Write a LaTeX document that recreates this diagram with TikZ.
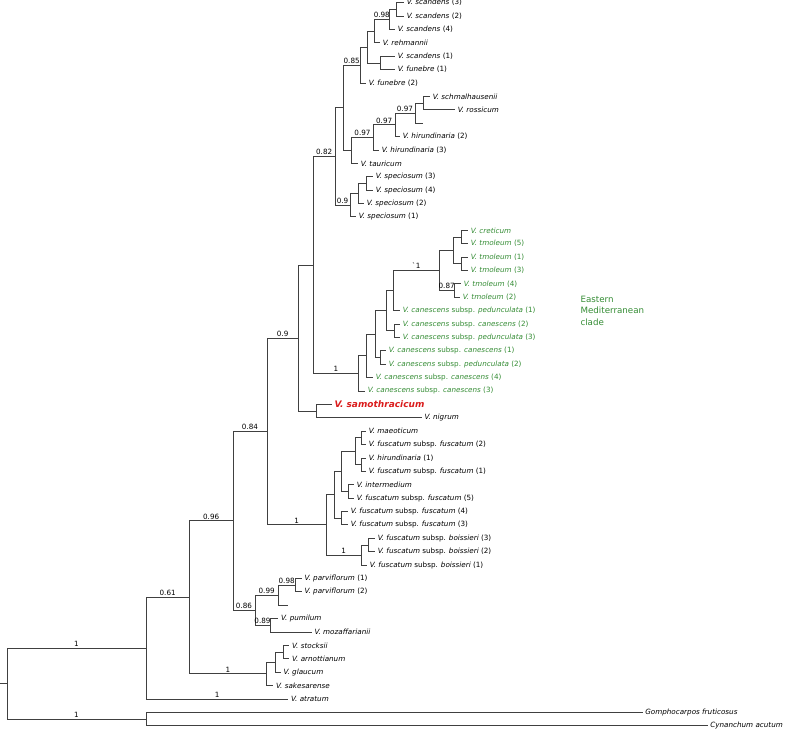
\documentclass[tikz,border=0pt]{standalone}
\usepackage{fontspec}
\setmainfont{DejaVu Sans}
\definecolor{emgreen}{RGB}{52,140,52}
\definecolor{samored}{RGB}{218,28,28}
\newcommand{\ly}[1]{2.7+13.39*(#1)}
\tikzset{br/.style={draw=black!75,line width=.9pt},
  tip/.style={anchor=west,inner xsep=2.6pt,inner ysep=0pt,font=\fontsize{7.2}{8}\selectfont},
  emtip/.style={tip,text=emgreen},
  supp/.style={pos=.75,above,inner sep=1.2pt,font=\fontsize{7.2}{8}\selectfont}}
\begin{document}
\begin{tikzpicture}[x=1pt,y=-1pt]
\useasboundingbox (0,0) rectangle (790,730);
% tips
\foreach \i/\x/\lab in {0/404/{\textit{V. scandens} (3)},1/404/{\textit{V. scandens} (2)},2/395/{\textit{V. scandens} (4)},
  3/380/{\textit{V. rehmannii}},4/395/{\textit{V. scandens} (1)},5/395/{\textit{V. funebre} (1)},6/366/{\textit{V. funebre} (2)},
  7/430/{\textit{V. schmalhausenii}},8/455/{\textit{V. rossicum}},9/423.3/{},10/400/{\textit{V. hirundinaria} (2)},
  11/379/{\textit{V. hirundinaria} (3)},12/358/{\textit{V. tauricum}},13/373/{\textit{V. speciosum} (3)},
  14/373/{\textit{V. speciosum} (4)},15/364/{\textit{V. speciosum} (2)},16/356/{\textit{V. speciosum} (1)},
  31/421.7/{\textit{V. nigrum}},32/366/{\textit{V. maeoticum}},33/366/{\textit{V. fuscatum} subsp. \textit{fuscatum} (2)},
  34/366/{\textit{V. hirundinaria} (1)},35/366/{\textit{V. fuscatum} subsp. \textit{fuscatum} (1)},36/354/{\textit{V. intermedium}},
  37/354/{\textit{V. fuscatum} subsp. \textit{fuscatum} (5)},38/348/{\textit{V. fuscatum} subsp. \textit{fuscatum} (4)},
  39/348/{\textit{V. fuscatum} subsp. \textit{fuscatum} (3)},40/375/{\textit{V. fuscatum} subsp. \textit{boissieri} (3)},
  41/375/{\textit{V. fuscatum} subsp. \textit{boissieri} (2)},42/367/{\textit{V. fuscatum} subsp. \textit{boissieri} (1)},
  43/301.7/{\textit{V. parviflorum} (1)},44/301.7/{\textit{V. parviflorum} (2)},45/288.3/{},46/278.3/{\textit{V. pumilum}},
  47/311.7/{\textit{V. mozaffarianii}},48/289.3/{\textit{V. stocksii}},49/289.3/{\textit{V. arnottianum}},
  50/280.7/{\textit{V. glaucum}},51/273.3/{\textit{V. sakesarense}},52/288.3/{\textit{V. atratum}},
  53/642.5/{\textit{Gomphocarpos fruticosus}},54/707.5/{\textit{Cynanchum acutum}}}
  \node[tip] (t\i) at (\x,{\ly{\i}}) {\lab};
\foreach \i/\x/\lab in {17/468/{\textit{V. creticum}},18/468/{\textit{V. tmoleum} (5)},19/468/{\textit{V. tmoleum} (1)},
  20/468/{\textit{V. tmoleum} (3)},21/461/{\textit{V. tmoleum} (4)},22/460/{\textit{V. tmoleum} (2)},
  23/400/{\textit{V. canescens} subsp. \textit{pedunculata} (1)},24/400/{\textit{V. canescens} subsp. \textit{canescens} (2)},
  25/400/{\textit{V. canescens} subsp. \textit{pedunculata} (3)},26/386/{\textit{V. canescens} subsp. \textit{canescens} (1)},
  27/386/{\textit{V. canescens} subsp. \textit{pedunculata} (2)},28/373/{\textit{V. canescens} subsp. \textit{canescens} (4)},
  29/365/{\textit{V. canescens} subsp. \textit{canescens} (3)}}
  \node[emtip] (t\i) at (\x,{\ly{\i}}) {\lab};
\node[tip,font=\fontsize{9}{10}\selectfont\bfseries\itshape,text=samored] (t30) at (331.7,{\ly{30}}) {V. samothracicum};
\node[anchor=west,align=left,text=emgreen,font=\fontsize{8.7}{11.7}\selectfont] (emlab) at (577,310.7) {Eastern\\Mediterranean\\clade};
% internal nodes
\coordinate (scA) at (396.7,{\ly{0.5}}); \coordinate (scB) at (389.3,{\ly{1.25}}); \coordinate (scC) at (374.3,{\ly{2.125}});
\coordinate (scE) at (380,{\ly{4.5}}); \coordinate (scD) at (367.3,{\ly{3.3125}}); \coordinate (scF) at (360,{\ly{4.65625}});
\coordinate (hiI) at (423.3,{\ly{7.5}}); \coordinate (hiJ) at (415,{\ly{8.25}}); \coordinate (hiK) at (395,{\ly{9.125}});
\coordinate (hiL) at (373.3,{\ly{10.0625}}); \coordinate (hiM) at (351.7,{\ly{11.03125}}); \coordinate (G) at (343.3,{\ly{7.84375}});
\coordinate (spA) at (366.7,{\ly{13.5}}); \coordinate (spB) at (358.3,{\ly{14.25}}); \coordinate (spC) at (350,{\ly{15.125}});
\coordinate (N) at (335,{\ly{11.484375}});
\coordinate (emA) at (461.7,{\ly{17.5}}); \coordinate (emB) at (461.7,{\ly{19.5}}); \coordinate (emC) at (453.3,{\ly{18.5}});
\coordinate (emD) at (454,{\ly{21.5}}); \coordinate (emE) at (439.3,{\ly{20}}); \coordinate (emF) at (393.3,{\ly{21.5}});
\coordinate (emG) at (394,{\ly{24.5}}); \coordinate (emH) at (386,{\ly{23}}); \coordinate (emI) at (380,{\ly{26.5}});
\coordinate (emJ) at (375,{\ly{24.75}}); \coordinate (emK) at (366,{\ly{26.375}}); \coordinate (emL) at (358.3,{\ly{27.6875}});
\coordinate (O) at (313.3,{\ly{19.5859}}); \coordinate (Q) at (316.7,{\ly{30.5}}); \coordinate (P) at (298.3,{\ly{25.043}});
\coordinate (fuA) at (361,{\ly{32.5}}); \coordinate (fuB) at (361,{\ly{34.5}}); \coordinate (fuC) at (355,{\ly{33.5}});
\coordinate (fuD) at (348,{\ly{36.5}}); \coordinate (fuE) at (341,{\ly{35}}); \coordinate (fuF) at (341,{\ly{38.5}});
\coordinate (fuG) at (334,{\ly{36.75}}); \coordinate (fuH) at (368,{\ly{40.5}}); \coordinate (fuI) at (361,{\ly{41.25}});
\coordinate (fuJ) at (326.5,{\ly{39}}); \coordinate (AB) at (267,{\ly{32.0215}});
\coordinate (paA) at (295,{\ly{43.5}}); \coordinate (paB) at (278.3,{\ly{44.25}}); \coordinate (paC) at (270,{\ly{46.5}});
\coordinate (paD) at (255,{\ly{45.375}}); \coordinate (AC) at (233,{\ly{38.6982}});
\coordinate (stA) at (283.3,{\ly{48.5}}); \coordinate (stB) at (275,{\ly{49.25}}); \coordinate (stC) at (266.7,{\ly{50.125}});
\coordinate (AD) at (189.3,{\ly{44.4116}}); \coordinate (ing) at (146,{\ly{48.2058}}); \coordinate (outg) at (146,{\ly{53.5}});
\coordinate (root) at (7,{\ly{50.8529}}); \coordinate (stub) at (0,{\ly{50.8529}});
% branches
\draw[br] (scA) |- (t0.west) (scA) |- (t1.west);
\draw[br] (scB) |- (scA) (scB) |- (t2.west);
\draw[br] (scC) |- node[supp]{0.98} (scB) (scC) |- (t3.west);
\draw[br] (scE) |- (t4.west) (scE) |- (t5.west);
\draw[br] (scD) |- (scC) (scD) |- (scE);
\draw[br] (scF) |- (scD) (scF) |- (t6.west);
\draw[br] (hiI) |- (t7.west) (hiI) |- (t8.west);
\draw[br] (hiJ) |- (hiI) (hiJ) |- (t9.west);
\draw[br] (hiK) |- node[supp]{0.97} (hiJ) (hiK) |- (t10.west);
\draw[br] (hiL) |- node[supp]{0.97} (hiK) (hiL) |- (t11.west);
\draw[br] (hiM) |- node[supp]{0.97} (hiL) (hiM) |- (t12.west);
\draw[br] (G) |- node[supp]{0.85} (scF) (G) |- (hiM);
\draw[br] (spA) |- (t13.west) (spA) |- (t14.west);
\draw[br] (spB) |- (spA) (spB) |- (t15.west);
\draw[br] (spC) |- (spB) (spC) |- (t16.west);
\draw[br] (N) |- (G) (N) |- node[supp]{0.9} (spC);
\draw[br] (emA) |- (t17.west) (emA) |- (t18.west);
\draw[br] (emB) |- (t19.west) (emB) |- (t20.west);
\draw[br] (emC) |- (emA) (emC) |- (emB);
\draw[br] (emD) |- (t21.west) (emD) |- (t22.west);
\draw[br] (emE) |- (emC) (emE) |- node[supp]{0.87} (emD);
\draw[br] (emF) |- node[supp]{\textasciigrave1} (emE) (emF) |- (t23.west);
\draw[br] (emG) |- (t24.west) (emG) |- (t25.west);
\draw[br] (emH) |- (emF) (emH) |- (emG);
\draw[br] (emI) |- (t26.west) (emI) |- (t27.west);
\draw[br] (emJ) |- (emH) (emJ) |- (emI);
\draw[br] (emK) |- (emJ) (emK) |- (t28.west);
\draw[br] (emL) |- (emK) (emL) |- (t29.west);
\draw[br] (O) |- node[supp]{0.82} (N) (O) |- node[supp]{1} (emL);
\draw[br] (Q) |- (t30.west) (Q) |- (t31.west);
\draw[br] (P) |- (O) (P) |- (Q);
\draw[br] (fuA) |- (t32.west) (fuA) |- (t33.west);
\draw[br] (fuB) |- (t34.west) (fuB) |- (t35.west);
\draw[br] (fuC) |- (fuA) (fuC) |- (fuB);
\draw[br] (fuD) |- (t36.west) (fuD) |- (t37.west);
\draw[br] (fuE) |- (fuC) (fuE) |- (fuD);
\draw[br] (fuF) |- (t38.west) (fuF) |- (t39.west);
\draw[br] (fuG) |- (fuE) (fuG) |- (fuF);
\draw[br] (fuH) |- (t40.west) (fuH) |- (t41.west);
\draw[br] (fuI) |- (fuH) (fuI) |- (t42.west);
\draw[br] (fuJ) |- (fuG) (fuJ) |- node[supp]{1} (fuI);
\draw[br] (AB) |- node[supp]{0.9} (P) (AB) |- node[supp]{1} (fuJ);
\draw[br] (paA) |- (t43.west) (paA) |- (t44.west);
\draw[br] (paB) |- node[supp]{0.98} (paA) (paB) |- (t45.west);
\draw[br] (paC) |- (t46.west) (paC) |- (t47.west);
\draw[br] (paD) |- node[supp]{0.99} (paB) (paD) |- node[supp]{0.89} (paC);
\draw[br] (AC) |- node[supp]{0.84} (AB) (AC) |- node[supp]{0.86} (paD);
\draw[br] (stA) |- (t48.west) (stA) |- (t49.west);
\draw[br] (stB) |- (stA) (stB) |- (t50.west);
\draw[br] (stC) |- (stB) (stC) |- (t51.west);
\draw[br] (AD) |- node[supp]{0.96} (AC) (AD) |- node[supp]{1} (stC);
\draw[br] (ing) |- node[supp]{0.61} (AD) (ing) |- node[supp]{1} (t52.west);
\draw[br] (outg) |- (t53.west) (outg) |- (t54.west);
\draw[br] (root) |- node[supp]{1} (ing) (root) |- node[supp]{1} (outg);
\draw[br] (stub) -- (root);
\end{tikzpicture}
\end{document}
